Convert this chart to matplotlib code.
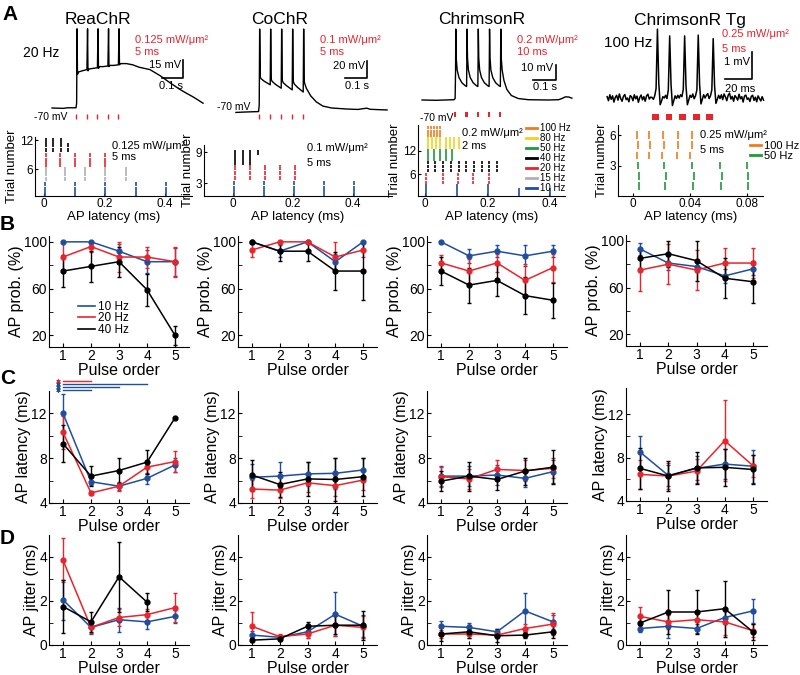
import numpy as np
import matplotlib
matplotlib.use("Agg")
import matplotlib.pyplot as plt
from matplotlib.lines import Line2D

plt.rcParams['font.family'] = ['Liberation Sans', 'DejaVu Sans']

W, H = 800, 675

# ---------------- data ----------------
opsins = ["ReaChR", "CoChR", "ChrimsonR", "ChrimsonR Tg"]
pulse_order = [1, 2, 3, 4, 5]
freqs = ["10 Hz", "20 Hz", "40 Hz"]

# AP probability (%)
prob_mean = {
    "10 Hz": [[100, 100, 92, 83, 83], [100, 92, 100, 83, 100], [100, 88, 92, 88, 92], [93, 81, 78, 70, 76]],
    "20 Hz": [[87, 96, 87, 87, 83], [93, 100, 100, 87, 93], [82, 75, 82, 67, 78], [75, 80, 75, 81, 81]],
    "40 Hz": [[75, 79, 83, 59, 20], [100, 92, 92, 75, 75], [75, 63, 67, 54, 50], [85, 89, 83, 68, 65]],
}
prob_err = {
    "10 Hz": [[0, 0, 6, 10, 12], [0, 5, 0, 7, 0], [0, 6, 5, 9, 5], [5, 6, 5, 6, 5]],
    "20 Hz": [[13, 5, 13, 9, 13], [6, 0, 0, 13, 6], [7, 10, 8, 14, 12], [18, 17, 17, 13, 13]],
    "40 Hz": [[14, 13, 13, 13.5, 8], [0, 8, 8, 16, 25], [12, 15, 13, 16, 15], [8, 11, 17, 17, 18]],
}
# AP latency (ms)
lat_mean = {
    "10 Hz": [[12, 5.9, 5.5, 6.2, 7.4], [6.3, 6.4, 6.6, 6.65, 6.95], [6.4, 6.4, 6.5, 6.2, 6.8], [8.5, 6.35, 7.0, 7.4, 7.2]],
    "20 Hz": [[10.3, 4.9, 5.5, 7.2, 7.7], [5.25, 5.15, 5.8, 5.55, 6.05], [6.35, 6.15, 7.0, 6.9, 7.1], [6.45, 6.3, 6.75, 9.55, 7.25]],
    "40 Hz": [[9.3, 6.4, 6.9, 7.65, 11.6], [6.5, 5.65, 6.15, 6.1, 6.35], [5.95, 6.4, 6.1, 6.85, 7.2], [7.0, 6.3, 7.05, 7.1, 6.9]],
}
lat_err = {
    "10 Hz": [[1.7, 0.3, 0.3, 0.5, 0.6], [1.2, 1.3, 1.1, 1.4, 1.1], [0.9, 0.9, 0.9, 0.8, 1.0], [1.5, 1.0, 1.1, 1.4, 1.5]],
    "20 Hz": [[1.5, 0.2, 0.4, 0.6, 0.9], [0.8, 0.7, 0.8, 0.9, 0.9], [0.9, 0.9, 0.8, 0.9, 0.9], [1.3, 1.2, 1.1, 3.7, 1.0]],
    "40 Hz": [[1.65, 0.9, 1.1, 1.05, 0], [1.3, 1.1, 1.5, 1.9, 1.7], [0.9, 1.3, 0.9, 1.2, 1.5], [1.9, 1.4, 1.45, 1.7, 1.3]],
}
# AP jitter (ms)
jit_mean = {
    "10 Hz": [[2.05, 0.8, 1.15, 1.05, 1.3], [0.45, 0.35, 0.6, 1.4, 0.85], [0.85, 0.8, 0.6, 1.55, 1.05], [0.75, 0.85, 0.75, 1.25, 1.55]],
    "20 Hz": [[3.85, 0.8, 1.25, 1.38, 1.7], [0.85, 0.38, 0.5, 0.9, 0.8], [0.5, 0.5, 0.45, 0.75, 0.95], [1.3, 1.05, 1.15, 1.05, 0.65]],
    "40 Hz": [[1.75, 1.05, 3.1, 1.95, np.nan], [0.22, 0.28, 0.85, 0.9, 0.9], [0.5, 0.6, 0.42, 0.45, 0.6], [1.0, 1.5, 1.5, 1.65, 0.6]],
}
jit_err = {
    "10 Hz": [[0.9, 0.3, 0.55, 0.3, 0.3], [0.2, 0.1, 0.3, 1.0, 0.5], [0.25, 0.2, 0.15, 0.8, 0.3], [0.15, 0.55, 0.2, 0.3, 0.55]],
    "20 Hz": [[1.0, 0.25, 0.4, 0.25, 0.65], [0.67, 0.1, 0.2, 0.5, 0.5], [0.2, 0.2, 0.15, 0.2, 0.5], [0.45, 0.3, 0.4, 0.6, 0.3]],
    "40 Hz": [[1.2, 0.45, 1.6, 0.4, 0], [0.1, 0.1, 0.2, 0.4, 0.65], [0.3, 0.3, 0.3, 0.15, 0.3], [0.3, 1.0, 1.0, 1.27, 0.35]],
}
# significant latency comparisons in ReaChR (pulse a vs pulse b, frequency)
sig_pairs = [(1, 2, "20 Hz"), (1, 4, "10 Hz"), (1, 3, "10 Hz"), (1, 2, "10 Hz")]

# example voltage traces (time in ms, voltage in mV)
reachr_t = [-114, -60, -40, 0, 3, 5, 7, 12, 30, 52, 55, 57, 62, 80, 102, 105, 107, 112, 130, 152, 155, 157,
            162, 180, 202, 205, 207, 212, 240, 270, 300, 352, 400, 448, 490, 519, 560, 605]
reachr_v = [-70, -70.3, -69.8, -69.8, -66, -4, -42, -40, -39, -38, -4, -39, -37.5, -37, -36.5, -4, -37, -35.5,
            -35.5, -35, -4, -35.5, -34.5, -34.5, -34, -4, -34, -33, -33, -34, -36, -38, -43, -49, -54, -57, -61, -66]
cochr_t = [-105, -60, -2, 1, 3, 6, 10, 25, 51, 53, 56, 60, 75, 101, 103, 106, 110, 125, 151, 153, 156, 160, 175,
           201, 203, 206, 215, 235, 260, 290, 330, 400, 450, 475, 490, 505, 540, 582]
cochr_v = [-70.5, -70, -69.5, -62, 27.6, -29, -31, -34, -38, 27.6, -32, -34, -37.5, -42, 27.6, -33, -35.5, -39,
           -44, 27.6, -34, -37, -41, -46.5, 27.6, -35, -42, -51, -58, -63, -65.3, -66.5, -67, -66, -65.5, -66.8,
           -67.2, -67.6]
chrim_t = [-142, -80, 0, 5, 7, 8, 10, 14, 22, 35, 50, 56, 57, 58, 60, 64, 72, 85, 100, 106, 107, 108, 110, 114,
           122, 135, 150, 156, 157, 158, 160, 164, 172, 185, 200, 206, 207, 208, 210, 214, 222, 235, 255, 285,
           330, 420, 465, 480, 495, 510, 524]
chrim_v = [-70, -70.2, -69.8, -69, -50, -22.7, -42, -50, -55, -58.5, -60.5, -61, -45, -22.7, -42, -50, -55,
           -58.5, -60.5, -61, -45, -22.7, -42, -50, -55, -58.5, -60.5, -61, -45, -22.7, -42, -50, -55, -58.5,
           -60.5, -61, -45, -22.7, -42, -50, -57, -63, -67, -69, -69.8, -70, -69.8, -69, -67.9, -68, -68.8]
# ChrimsonR Tg trace, sampled every 1 ms from -33 ms (mV relative to baseline)
tg_pre = [0.05, -0.10, 0.12, -0.05, 0.08, -0.15, 0.02, 0.10, -0.08, 0.15, -0.02, -0.12, 0.06, 0.13, -0.06,
          0.00, -0.14, 0.09, 0.04, -0.10, 0.12, -0.03, 0.07, -0.16, 0.02, 0.11, -0.07, 0.05, -0.12, 0.08,
          0.14, -0.04, 0.03]
tg_train = [0.02, -0.05, 0.08, 0.35, 2.55, 0.55, -0.25, -0.12, 0.05, 0.0, 0.1, -0.02, 0.3, 2.3, 0.5, -0.28,
            -0.1, 0.08, -0.02, 0.1, 0.0, 0.12, 0.05, 0.32, 2.3, 0.45, -0.25, -0.08, 0.1, 0.02, 0.15, -0.03,
            0.08, 0.3, 2.33, 0.5, -0.22, -0.05, 0.12, 0.0, 0.1, 0.16, -0.02, 0.08, 0.3, 2.2, 0.45, -0.2,
            -0.05, 0.1, -0.02]
tg_post = [0.12, -0.06, 0.15, 0.04, -0.10, 0.10, 0.18, -0.04, 0.06, -0.12, 0.09, 0.02, -0.08, 0.14, -0.03,
           0.05, -0.15, 0.07, 0.11, -0.05, 0.00, -0.13, 0.06, 0.10, -0.09, 0.03, -0.14, 0.08, -0.02, -0.11,
           0.05, -0.08]
tg_v = tg_pre + tg_train + tg_post
tg_t = np.arange(-33, -33 + len(tg_v))

pulse_20hz = [0, 50, 100, 150, 200]
pulse_100hz = [0, 10, 20, 30, 40]

# raster plots: (colour key, trials, spike latencies)
raster_reachr = [("10 Hz", [1, 2, 3], [0.003, 0.103, 0.203, 0.303, 0.403]),
                 ("15 Hz", [4, 5, 6], [0.006, 0.07, 0.137, 0.203, 0.27]),
                 ("20 Hz", [7, 8, 9], [0.005, 0.053, 0.103, 0.153, 0.203]),
                 ("40 Hz", [10, 11, 12], [0.005, 0.03, 0.055]),
                 ("40 Hz", [10, 11], [0.08])]
raster_cochr = [("10 Hz", [1, 2, 3], [0.003, 0.103, 0.203, 0.303, 0.403]),
                ("20 Hz", [4, 5, 6], [0.005, 0.055, 0.105, 0.155, 0.205]),
                ("40 Hz", [7, 8, 9], [0.005, 0.032, 0.058]),
                ("40 Hz", [9], [0.084])]
raster_chrim = [("10 Hz", [1, 2, 3], [0.003, 0.103, 0.203]),
                ("10 Hz", [1, 2], [0.303, 0.403]),
                ("20 Hz", [4, 5, 6], [0.003, 0.058, 0.106, 0.155, 0.204]),
                ("40 Hz", [7, 8, 9], [0.009, 0.033, 0.058, 0.082, 0.109, 0.133, 0.156, 0.182, 0.205, 0.232]),
                ("50 Hz", [10, 11, 12], [0.009, 0.027, 0.047, 0.068, 0.087]),
                ("80 Hz", [13, 14, 15], [0.008, 0.022, 0.036, 0.049, 0.066, 0.08, 0.093, 0.109]),
                ("100 Hz", [16, 17, 18], [0.008, 0.019, 0.030, 0.039, 0.049])]
raster_tg = [("50 Hz", [1], [0.004, 0.0225, 0.042, 0.0615, 0.0805]),
             ("50 Hz", [2], [0.0045, 0.023, 0.0425, 0.0625, 0.0805]),
             ("50 Hz", [3], [0.0035, 0.022, 0.0415, 0.061, 0.0795]),
             ("100 Hz", [4], [0.0025, 0.011, 0.0205, 0.0305, 0.040]),
             ("100 Hz", [5], [0.0035, 0.012, 0.0215, 0.0315, 0.041]),
             ("100 Hz", [6], [0.003, 0.0115, 0.021, 0.0315, 0.041])]

colors = {"10 Hz": "#1f4e9e", "15 Hz": "#b0b0b0", "20 Hz": "#e8242c", "40 Hz": "black",
          "50 Hz": "#1e9a3a", "80 Hz": "#f2d21b", "100 Hz": "#f07d1a"}
RED = "#e8242c"

fig = plt.figure(figsize=(W / 100, H / 100), dpi=100)


def px_box(left, top, right, bottom):
    return [left / W, 1 - bottom / H, (right - left) / W, (bottom - top) / H]


def ftext(x, y, s, **kw):
    kw.setdefault('va', 'center')
    fig.text(x / W, 1 - y / H, s, **kw)


def trace_axes(box, x0px, kx, y0px, v0, kv):
    left, top, right, bottom = box
    ax = fig.add_axes(px_box(*box))
    ax.set_xlim((left - x0px) / kx, (right - x0px) / kx)
    ax.set_ylim(v0 - (bottom - y0px) / kv, v0 + (y0px - top) / kv)
    ax.axis('off')
    return ax


# ---------------- panel A: traces ----------------
lw_tr = 1.0
ax = trace_axes((40, 22, 215, 125), 76, 0.21, 108, -70, 1.2)
ax.plot(reachr_t, reachr_v, color='black', lw=lw_tr)
ax.vlines(pulse_20hz, -79, -75, color=RED, lw=1.0)
ax.plot([410, 510, 510], [-45, -45, -30], color='black', lw=1.2, clip_on=False)

ax = trace_axes((215, 22, 395, 125), 259, 0.22, 112, -70, 0.85)
ax.plot(cochr_t, cochr_v, color='black', lw=lw_tr)
ax.vlines(pulse_20hz, -78, -72.4, color=RED, lw=1.0)
ax.plot([391, 491, 491], [-30, -30, -10], color='black', lw=1.2, clip_on=False)

ax = trace_axes((415, 22, 580, 125), 454, 0.225, 100, -70, 1.5)
ax.plot(chrim_t, chrim_v, color='black', lw=lw_tr)
ax.bar(pulse_20hz, 3.3, width=10, bottom=-81.3, align='edge', color=RED)
ax.plot([353, 453, 453], [-57, -57, -47], color='black', lw=1.2, clip_on=False)

ax = trace_axes((600, 22, 775, 125), 652, 1.36, 98, 0, 27)
ax.plot(tg_t, tg_v, color='black', lw=1.1)
ax.bar(pulse_100hz, 0.22, width=5, bottom=-0.81, align='edge', color=RED)
ax.plot([53.5, 73.5, 73.5], [0.7, 0.7, 1.7], color='black', lw=1.2, clip_on=False)

# titles and annotations of A
for x, name in zip([98, 280, 482, 690], opsins):
    ftext(x, 20, name, ha='center', fontsize=12.5)
ftext(2, 15, "A", fontsize=15, fontweight='bold')
ftext(23, 53, "20 Hz", fontsize=10)
ftext(604, 43, "100 Hz", fontsize=11)
red_notes = [(135, 40, 52, "0.125 mW/\u03bcm\u00b2", "5 ms"), (320, 40, 52, "0.1 mW/\u03bcm\u00b2", "5 ms"),
             (517, 40, 52, "0.2 mW/\u03bcm\u00b2", "10 ms"), (722, 34, 49, "0.25 mW/\u03bcm\u00b2", "5 ms")]
for x, y1, y2, s1, s2 in red_notes:
    ftext(x, y1, s1, color=RED, fontsize=8)
    ftext(x, y2, s2, color=RED, fontsize=8)
for x, y, s in [(181, 65, "15 mV"), (365, 66, "20 mV"), (553, 68, "10 mV"), (750, 62, "1 mV")]:
    ftext(x, y, s, ha='right', fontsize=8)
for x, y, s in [(171, 86, "0.1 s"), (357, 86, "0.1 s"), (545, 87, "0.1 s"), (740, 89, "20 ms")]:
    ftext(x, y, s, ha='center', fontsize=8)
ftext(67, 117, "-70 mV", ha='right', fontsize=7.5)
ftext(250, 107, "-70 mV", ha='right', fontsize=7.5)
ftext(453, 118, "-70 mV", ha='right', fontsize=7.5)

# ---------------- panel A: rasters ----------------
raster_specs = [
    (raster_reachr, (35, 137, 192, 196), (-0.03, 0.49), (0.5, 12.7), [6, 12], [0, 0.2, 0.4], ["0", "0.2", "0.4"]),
    (raster_cochr, (204, 145, 392, 196), (-0.097, 0.53), (0.5, 10.4), [3, 9], [0, 0.2, 0.4], ["0", "0.2", "0.4"]),
    (raster_chrim, (418, 125, 565, 196), (-0.023, 0.45), (0.5, 18.6), [6, 12], [0, 0.2, 0.4], ["0", "0.2", "0.4"]),
    (raster_tg, (618, 125, 763, 196), (-0.0105, 0.091), (0, 7), [3, 6], [0, 0.04, 0.08], ["0", "0.04", "0.08"]),
]
for rows, box, xl, yl, yt, xt, xtl in raster_specs:
    ax = fig.add_axes(px_box(*box))
    half = 0.38 if yl[0] == 0 else 0.45
    for key, trials, lats in rows:
        for tr in trials:
            ax.vlines(lats, tr - half, tr + half, color=colors[key], lw=1.2)
    ax.set_xlim(*xl)
    ax.set_ylim(*yl)
    ax.set_yticks(yt)
    ax.set_xticks(xt)
    ax.set_xticklabels(xtl)
    for s in ['top', 'right']:
        ax.spines[s].set_visible(False)
    for s in ['left', 'bottom']:
        ax.spines[s].set_linewidth(0.8)
    ax.tick_params(direction='in', length=2.5, labelsize=8.5, pad=1.5)
    ax.set_xlabel("AP latency (ms)", fontsize=9.5, labelpad=0.5)
    ax.set_ylabel("Trial number", fontsize=9.5, labelpad=1)
    if rows is raster_chrim:
        keys = ["100 Hz", "80 Hz", "50 Hz", "40 Hz", "20 Hz", "15 Hz", "10 Hz"]
        handles = [Line2D([], [], color=colors[k], lw=2) for k in keys]
        ax.legend(handles, keys, loc='upper left', bbox_to_anchor=(526 / W, 1 - 123 / H),
                  bbox_transform=fig.transFigure, fontsize=7, handlelength=1.1, handletextpad=0.3,
                  labelspacing=0.0, borderaxespad=0, borderpad=0, frameon=False)
    if rows is raster_tg:
        keys = ["100 Hz", "50 Hz"]
        handles = [Line2D([], [], color=colors[k], lw=2) for k in keys]
        ax.legend(handles, keys, loc='upper left', bbox_to_anchor=(750 / W, 1 - 141 / H),
                  bbox_transform=fig.transFigure, fontsize=8, handlelength=1.0, handletextpad=0.3,
                  labelspacing=0.0, borderaxespad=0, borderpad=0, frameon=False)

raster_notes = [(112, 146, 157, "0.125 mW/\u03bcm\u00b2", "5 ms"), (307, 148, 163, "0.1 mW/\u03bcm\u00b2", "5 ms"),
                (462, 133, 146, "0.2 mW/\u03bcm\u00b2", "2 ms"), (700, 135, 150, "0.25 mW/\u03bcm\u00b2", "5 ms")]
for x, y1, y2, s1, s2 in raster_notes:
    ftext(x, y1, s1, fontsize=8)
    ftext(x, y2, s2, fontsize=8)

# ---------------- panels B-D ----------------
stat_rows = [
    ("B", prob_mean, prob_err, "AP prob. (%)", [(10, 105)] * 4, [20, 60, 100], [40, 80],
     [(49, 236, 189, 347), (238, 236, 377, 347), (427, 236, 567, 347), (626, 235, 767, 346)], 225),
    ("C", lat_mean, lat_err, "AP latency (ms)", [(4, 14), (4, 14), (4, 14), (4, 14.4)], [4, 8, 12], [6, 10],
     [(49, 391, 189, 503), (238, 391, 377, 503), (427, 391, 567, 503), (626, 388, 767, 501)], 378),
    ("D", jit_mean, jit_err, "AP jitter (ms)", [(0, 5)] * 4, [0, 2, 4], [1, 3],
     [(49, 535, 189, 645), (238, 535, 377, 645), (427, 535, 567, 645), (626, 535, 767, 645)], 538),
]
for letter, means, errs, ylabel, ylims, major, minor, boxes, ly in stat_rows:
    ftext(0, ly, letter, fontsize=15, fontweight='bold')
    for i, box in enumerate(boxes):
        ax = fig.add_axes(px_box(*box))
        for f in freqs:
            ax.errorbar(pulse_order, means[f][i], yerr=errs[f][i], color=colors[f], lw=1.1,
                        marker='o', ms=3.5, mfc=colors[f], mec=colors[f], capsize=1.5,
                        elinewidth=1.0, clip_on=False)
        ax.set_xlim(0.5, 5.5)
        ax.set_ylim(*ylims[i])
        ax.set_xticks(pulse_order)
        ax.set_yticks(major)
        ax.set_yticks(minor, minor=True)
        for s in ['top', 'right']:
            ax.spines[s].set_visible(False)
        for s in ['left', 'bottom']:
            ax.spines[s].set_linewidth(0.8)
        ax.tick_params(which='both', direction='in', length=3, labelsize=10, pad=1.5)
        ax.set_xlabel("Pulse order", fontsize=11.5, labelpad=0)
        ax.set_ylabel(ylabel, fontsize=11.5, labelpad=0)
        if letter == "B" and i == 0:
            handles = [Line2D([], [], color=colors[f], lw=1.2) for f in freqs]
            ax.legend(handles, freqs, loc='upper left', bbox_to_anchor=(78 / W, 1 - 301 / H),
                      bbox_transform=fig.transFigure, fontsize=8.5, handlelength=1.4, handletextpad=0.3,
                      labelspacing=-0.05, borderaxespad=0, borderpad=0, frameon=False)
        if letter == "C" and i == 0:
            for (a, b, f), yy in zip(sig_pairs, [14.9, 14.65, 14.35, 14.05]):
                ax.plot([a, b], [yy, yy], color=colors[f], lw=1.0, clip_on=False)
                ax.plot([0.83], [yy], color=colors[f], marker=(6, 2, 0), ms=3, mew=0.6,
                        linestyle='none', clip_on=False)

fig.savefig("out.png", dpi=100)
